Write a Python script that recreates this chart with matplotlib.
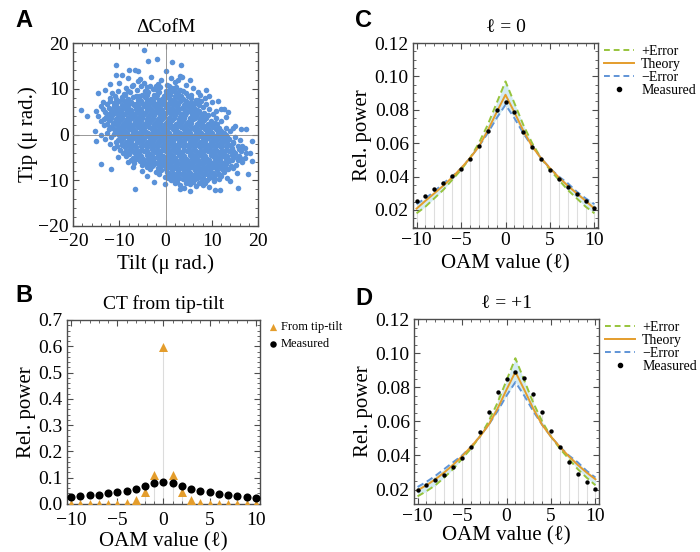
import matplotlib
matplotlib.use('Agg')
import matplotlib.pyplot as plt
from matplotlib.lines import Line2D
from matplotlib.ticker import MultipleLocator

plt.rcParams['font.family'] = ['Liberation Serif', 'DejaVu Serif']

# Panel A: centre-of-mass jitter (tilt, tip) in micro-radians
cofm_pts = [
    # outliers at the top
    (-4.7, 18.5), (-1.8, 16.5), (-3.8, 16.0), (1.5, 15.8), (3.3, 15.3), (-10.8, 15.1),
    (-6.0, 13.8), (-7.9, 14.0), (-6.5, 14.2), (-9.5, 13.0), (-10.6, 13.1), (0.0, 13.8),
    (3.1, 12.7), (5.2, 11.9), (-12.0, 11.1), (-14.7, 9.1), (8.8, 9.7), (9.5, 8.4),
    (7.4, 8.7), (11.4, 7.3), (12.1, 5.5), (-18.2, 5.3), (-15.1, 5.1),
    # y ~ 12
    (-8.2, 12.4), (-5.6, 12.1), (-3.1, 12.6), (-1.0, 11.9), (1.1, 12.3), (2.6, 12.0), (3.6, 12.5),
    # y ~ 11
    (-10.1, 11.2), (-7.0, 10.9), (-4.6, 11.3), (-3.3, 10.7), (-1.6, 11.1), (0.4, 10.8),
    (2.0, 11.4), (4.4, 10.9), (-6.0, 11.6),
    (-7.3, 10.5), (-2.0, 10.6), (2.3, 10.4),
    # y ~ 10
    (-13.1, 9.8), (-8.6, 10.2), (-6.1, 9.7), (-4.1, 10.3), (-2.8, 9.9), (-1.1, 10.4),
    (0.0, 9.6), (1.5, 10.1), (3.1, 9.8), (6.0, 10.2), (-5.2, 10.6), (0.8, 10.7),
    (-10.3, 9.5), (-8.2, 9.6), (-4.4, 9.6), (-1.9, 9.7), (0.7, 9.4), (2.1, 9.5), (3.7, 9.6),
    # y ~ 9
    (-11.6, 9.1), (-9.0, 8.8), (-7.6, 9.3), (-5.0, 8.7), (-3.7, 9.2), (-2.5, 8.6),
    (-1.3, 9.3), (0.2, 8.9), (1.3, 9.4), (2.8, 8.8), (4.5, 9.1), (7.0, 9.2),
    (-6.3, 8.5), (5.6, 8.6),
    (-11.0, 8.5), (-8.8, 8.6), (-5.7, 8.4), (-4.0, 8.6), (-1.8, 8.7), (-0.3, 8.5),
    (0.9, 8.6), (2.0, 8.4), (3.4, 8.5), (4.9, 8.4),
    # y ~ 8
    (-12.1, 8.0), (-10.6, 7.7), (-9.5, 8.3), (-8.2, 7.8), (-7.0, 8.2), (-5.6, 7.6),
    (-4.5, 8.1), (-3.1, 7.7), (-2.0, 8.3), (-0.8, 7.8), (0.3, 8.2), (1.5, 7.6),
    (2.6, 8.1), (3.8, 7.7), (5.5, 8.0), (8.5, 7.9), (6.6, 7.5),
    (-12.0, 7.4), (-9.1, 7.5), (-8.0, 7.4), (-6.0, 7.6), (-3.9, 7.5), (-2.7, 7.4),
    (-1.5, 7.5), (-0.3, 7.4), (0.9, 7.6), (2.0, 7.4), (3.3, 7.6), (4.5, 7.4), (7.0, 7.6),
    # y ~ 7
    (-13.6, 7.1), (-11.1, 6.9), (-10.0, 7.3), (-8.6, 6.8), (-7.5, 7.2), (-6.4, 6.7),
    (-5.3, 7.3), (-4.2, 6.8), (-3.3, 7.2), (-2.1, 6.7), (-1.0, 7.1), (0.0, 6.6),
    (1.0, 7.2), (2.1, 6.8), (3.1, 7.3), (4.2, 6.7), (5.5, 7.1), (6.6, 6.8),
    (10.0, 7.0), (7.6, 7.3),
    (-12.6, 6.6), (-10.6, 6.6), (-9.5, 6.5), (-8.1, 6.4), (-7.1, 6.6), (-6.0, 6.5),
    (-4.9, 6.6), (-3.8, 6.5), (-2.8, 6.6), (-1.6, 6.5), (-0.5, 6.6), (0.6, 6.4),
    (1.6, 6.5), (2.8, 6.6), (3.9, 6.5), (5.2, 6.6), (6.0, 6.5), (8.8, 6.6),
    # y ~ 6
    (-14.0, 6.2), (-12.3, 5.8), (-11.1, 6.3), (-10.2, 5.7), (-9.0, 6.1), (-7.9, 5.6),
    (-6.8, 6.4), (-5.7, 5.9), (-4.6, 6.2), (-3.4, 5.7), (-2.3, 6.3), (-1.2, 5.8),
    (0.1, 6.1), (1.2, 5.6), (2.4, 6.3), (3.5, 5.9), (4.8, 6.2), (6.1, 5.7),
    (8.1, 6.0), (12.6, 5.5), (7.2, 6.4),
    (-13.5, 5.5), (-11.7, 5.4), (-10.7, 5.6), (-9.6, 5.4), (-8.5, 5.6), (-7.4, 5.3),
    (-6.3, 5.6), (-5.2, 5.4), (-4.1, 5.7), (-3.0, 5.4), (-1.8, 5.6), (-0.7, 5.4),
    (0.6, 5.6), (1.8, 5.3), (3.0, 5.6), (4.2, 5.4), (5.5, 5.5), (6.8, 5.4), (9.5, 5.5),
    # y ~ 5
    (-13.1, 5.0), (-11.6, 4.8), (-10.5, 5.3), (-9.4, 4.7), (-8.3, 5.2), (-7.2, 4.6),
    (-6.2, 5.1), (-5.1, 4.7), (-4.0, 5.3), (-2.9, 4.8), (-1.8, 5.2), (-0.6, 4.6),
    (0.5, 5.1), (1.7, 4.7), (2.8, 5.3), (3.9, 4.8), (5.0, 5.2), (6.2, 4.6),
    (7.3, 5.1), (8.4, 4.8), (11.0, 5.2), (13.5, 4.9),
    (-12.3, 4.5), (-11.0, 4.6), (-10.0, 4.4), (-8.8, 4.5), (-7.7, 4.4), (-6.6, 4.5),
    (-5.5, 4.4), (-4.4, 4.6), (-3.3, 4.4), (-2.2, 4.6), (-1.1, 4.4), (0.0, 4.6),
    (1.1, 4.4), (2.3, 4.6), (3.4, 4.4), (4.5, 4.6), (5.7, 4.4), (7.0, 4.6), (8.2, 4.4), (10.2, 4.5),
    # y ~ 4
    (-14.6, 4.1), (-12.8, 3.8), (-11.5, 4.3), (-10.4, 3.7), (-9.3, 4.2), (-8.1, 3.6),
    (-7.0, 4.1), (-5.9, 3.7), (-4.8, 4.3), (-3.7, 3.8), (-2.5, 4.2), (-1.4, 3.6),
    (-0.3, 4.1), (0.8, 3.7), (2.0, 4.3), (3.1, 3.8), (4.3, 4.2), (5.4, 3.6),
    (6.6, 4.1), (7.7, 3.8), (9.1, 4.2), (13.1, 3.9), (-17.0, 4.0),
    (-13.4, 3.4), (-11.8, 3.5), (-10.6, 3.4), (-9.5, 3.6), (-8.4, 3.4), (-7.2, 3.6),
    (-6.1, 3.4), (-5.0, 3.6), (-3.9, 3.4), (-2.8, 3.6), (-1.6, 3.4), (-0.5, 3.6),
    (0.7, 3.4), (1.8, 3.6), (3.0, 3.4), (4.1, 3.6), (5.2, 3.4), (6.4, 3.6), (7.5, 3.4),
    (8.8, 3.6), (11.0, 3.5),
    # y ~ 3
    (-12.2, 3.1), (-11.0, 2.8), (-9.9, 3.2), (-8.8, 2.7), (-7.6, 3.3), (-6.5, 2.8),
    (-5.4, 3.2), (-4.2, 2.6), (-3.1, 3.1), (-2.0, 2.7), (-0.8, 3.3), (0.3, 2.8),
    (1.4, 3.2), (2.6, 2.6), (3.7, 3.1), (4.9, 2.7), (6.0, 3.3), (7.2, 2.8),
    (8.4, 3.2), (9.8, 2.9), (12.1, 3.0), (-14.0, 2.9),
    (-12.6, 2.4), (-11.4, 2.6), (-10.3, 2.5), (-9.1, 2.4), (-8.0, 2.6), (-6.9, 2.4),
    (-5.8, 2.6), (-4.6, 2.4), (-3.5, 2.6), (-2.4, 2.4), (-1.2, 2.6), (-0.1, 2.4),
    (1.0, 2.6), (2.2, 2.4), (3.3, 2.6), (4.5, 2.4), (5.6, 2.6), (6.8, 2.4), (7.9, 2.6),
    (9.2, 2.4), (10.6, 2.6),
    # y ~ 2
    (-13.2, 2.0), (-11.9, 1.7), (-10.8, 2.2), (-9.6, 1.6), (-8.5, 2.1), (-7.4, 1.7),
    (-6.2, 2.3), (-5.1, 1.8), (-3.9, 2.2), (-2.8, 1.6), (-1.7, 2.1), (-0.5, 1.7),
    (0.6, 2.3), (1.8, 1.8), (2.9, 2.2), (4.1, 1.6), (5.2, 2.1), (6.4, 1.7),
    (7.5, 2.3), (8.7, 1.8), (10.0, 2.0), (11.2, 2.3), (15.0, 1.9),
    (-11.4, 1.4), (-10.3, 1.5), (-9.2, 1.4), (-8.1, 1.6), (-7.0, 1.4), (-5.9, 1.6),
    (-4.7, 1.4), (-3.6, 1.6), (-2.4, 1.4), (-1.3, 1.6), (-0.1, 1.4), (1.0, 1.6),
    (2.2, 1.4), (3.4, 1.6), (4.5, 1.4), (5.6, 1.6), (6.8, 1.4), (7.9, 1.6), (9.1, 1.4),
    (10.3, 1.6), (11.6, 1.4), (13.0, 1.5),
    # y ~ 1
    (-12.3, 1.1), (-11.0, 0.8), (-9.9, 1.2), (-8.8, 0.7), (-7.6, 1.3), (-6.5, 0.8),
    (-5.3, 1.2), (-4.2, 0.6), (-3.0, 1.1), (-1.9, 0.7), (-0.7, 1.3), (0.4, 0.8),
    (1.6, 1.2), (2.7, 0.6), (3.9, 1.1), (5.0, 0.7), (6.2, 1.3), (7.3, 0.8),
    (8.5, 1.2), (9.7, 0.7), (10.9, 1.1), (12.1, 0.8), (14.6, 1.5), (16.4, 1.2), (17.5, 1.1),
    (-12.6, 0.4), (-10.5, 0.5), (-9.4, 0.6), (-8.3, 0.4), (-7.1, 0.6), (-6.0, 0.4),
    (-4.9, 0.6), (-3.7, 0.4), (-2.6, 0.6), (-1.4, 0.4), (-0.3, 0.6), (0.8, 0.4),
    (2.0, 0.6), (3.1, 0.4), (4.3, 0.6), (5.4, 0.4), (6.6, 0.6), (7.7, 0.4), (8.9, 0.6),
    (10.1, 0.4), (11.3, 0.6), (12.6, 0.4),
    # y ~ 0
    (-15.3, 0.7), (-14.0, 0.0), (-11.1, 0.1), (-10.0, -0.2), (-8.9, 0.3), (-7.7, -0.3),
    (-6.6, 0.2), (-5.5, -0.2), (-4.3, 0.3), (-3.2, -0.3), (-2.1, 0.2), (-0.9, -0.2),
    (0.2, 0.3), (1.3, -0.3), (2.5, 0.2), (3.6, -0.2), (4.8, 0.3), (5.9, -0.3),
    (7.1, 0.2), (8.2, -0.2), (9.4, 0.3), (10.6, -0.3), (11.8, 0.1), (13.0, -0.2), (13.9, 0.7),
    (-11.7, -0.5), (-9.5, -0.6), (-8.4, -0.4), (-7.2, -0.6), (-6.1, -0.4), (-5.0, -0.6),
    (-3.8, -0.4), (-2.7, -0.6), (-1.5, -0.4), (-0.4, -0.6), (0.7, -0.4), (1.9, -0.6),
    (3.0, -0.4), (4.2, -0.6), (5.3, -0.4), (6.5, -0.6), (7.6, -0.4), (8.8, -0.6),
    (9.9, -0.4), (11.1, -0.6), (12.2, -0.4), (13.4, -0.6), (15.0, -0.5),
    # y ~ -1
    (-15.0, -1.5), (-13.0, -0.9), (-10.2, -1.1), (-9.1, -0.8), (-8.0, -1.3), (-6.8, -0.7),
    (-5.7, -1.2), (-4.6, -0.8), (-3.4, -1.3), (-2.3, -0.7), (-1.1, -1.2), (0.0, -0.8),
    (1.1, -1.3), (2.3, -0.7), (3.4, -1.2), (4.6, -0.8), (5.7, -1.3), (6.9, -0.7),
    (8.0, -1.2), (9.2, -0.8), (10.3, -1.3), (11.5, -0.7), (12.6, -1.2), (13.8, -0.9),
    (16.0, -1.1), (18.6, -1.5),
    (-10.7, -1.6), (-9.6, -1.4), (-8.5, -1.6), (-7.4, -1.4), (-6.2, -1.6), (-5.1, -1.4),
    (-4.0, -1.6), (-2.8, -1.4), (-1.7, -1.6), (-0.5, -1.4), (0.6, -1.6), (1.7, -1.4),
    (2.9, -1.6), (4.0, -1.4), (5.2, -1.6), (6.3, -1.4), (7.5, -1.6), (8.6, -1.4),
    (9.8, -1.6), (10.9, -1.4), (12.1, -1.6), (13.2, -1.4), (14.5, -1.6),
    # y ~ -2
    (-12.0, -2.0), (-9.3, -2.2), (-8.2, -1.8), (-7.0, -2.3), (-5.9, -1.7), (-4.8, -2.2),
    (-3.6, -1.8), (-2.5, -2.3), (-1.3, -1.7), (-0.2, -2.2), (0.9, -1.8), (2.1, -2.3),
    (3.2, -1.7), (4.4, -2.2), (5.5, -1.8), (6.7, -2.3), (7.8, -1.7), (9.0, -2.2),
    (10.1, -1.8), (11.3, -2.3), (12.4, -1.7), (13.6, -2.2), (14.7, -1.9), (15.7, -2.5),
    (-10.5, -2.5), (-8.8, -2.4), (-7.6, -2.6), (-6.5, -2.4), (-5.3, -2.6), (-4.2, -2.4),
    (-3.0, -2.6), (-1.9, -2.4), (-0.7, -2.6), (0.4, -2.4), (1.6, -2.6), (2.7, -2.4),
    (3.8, -2.6), (5.0, -2.4), (6.1, -2.6), (7.3, -2.4), (8.4, -2.6), (9.6, -2.4),
    (10.7, -2.6), (11.9, -2.4), (13.0, -2.6), (14.2, -2.4), (16.5, -2.6),
    # y ~ -3
    (-11.1, -3.0), (-9.9, -3.3), (-8.7, -2.8), (-7.6, -3.2), (-6.4, -2.7), (-5.3, -3.3),
    (-4.1, -2.8), (-3.0, -3.2), (-1.8, -2.7), (-0.7, -3.3), (0.5, -2.8), (1.6, -3.2),
    (2.8, -2.7), (3.9, -3.3), (5.1, -2.8), (6.2, -3.2), (7.4, -2.7), (8.5, -3.3),
    (9.7, -2.8), (10.8, -3.2), (12.0, -2.7), (13.1, -3.3), (14.3, -2.9), (15.8, -3.1), (17.2, -3.0),
    (-8.5, -3.6), (-7.3, -3.4), (-6.2, -3.6), (-5.0, -3.4), (-3.9, -3.6), (-2.7, -3.4),
    (-1.6, -3.6), (-0.4, -3.4), (0.7, -3.6), (1.8, -3.4), (3.0, -3.6), (4.1, -3.4),
    (5.3, -3.6), (6.4, -3.4), (7.6, -3.6), (8.7, -3.4), (9.9, -3.6), (11.0, -3.4),
    (12.2, -3.6), (13.3, -3.4), (14.6, -3.6), (16.3, -3.5),
    # y ~ -4
    (-9.2, -4.0), (-8.0, -4.3), (-6.9, -3.8), (-5.7, -4.2), (-4.6, -3.7), (-3.4, -4.3),
    (-2.3, -3.8), (-1.1, -4.2), (0.0, -3.7), (1.2, -4.3), (2.3, -3.8), (3.5, -4.2),
    (4.6, -3.7), (5.8, -4.3), (6.9, -3.8), (8.1, -4.2), (9.2, -3.7), (10.4, -4.3),
    (11.5, -3.8), (12.7, -4.2), (13.8, -3.7), (15.0, -4.1), (17.5, -4.0), (18.2, -4.0),
    (-8.6, -4.6), (-6.3, -4.4), (-5.2, -4.6), (-4.0, -4.4), (-2.9, -4.6), (-1.7, -4.4),
    (-0.6, -4.6), (0.6, -4.4), (1.7, -4.6), (2.9, -4.4), (4.0, -4.6), (5.2, -4.4),
    (6.3, -4.6), (7.5, -4.4), (8.6, -4.6), (9.8, -4.4), (10.9, -4.6), (12.1, -4.4),
    (13.2, -4.6), (14.4, -4.4), (15.8, -4.6),
    # y ~ -5
    (-10.2, -5.0), (-7.1, -5.2), (-5.9, -4.8), (-4.8, -5.3), (-3.6, -4.7), (-2.5, -5.2),
    (-1.3, -4.8), (-0.2, -5.3), (1.0, -4.7), (2.1, -5.2), (3.3, -4.8), (4.4, -5.3),
    (5.6, -4.7), (6.7, -5.2), (7.9, -4.8), (9.0, -5.3), (10.2, -4.7), (11.3, -5.2),
    (12.5, -4.8), (13.6, -5.3), (14.8, -4.9), (16.1, -5.2), (17.1, -5.1),
    (-7.5, -5.6), (-6.3, -5.4), (-5.0, -5.6), (-3.8, -5.4), (-2.6, -5.6), (-1.4, -5.4),
    (-0.2, -5.6), (1.0, -5.4), (2.2, -5.6), (3.4, -5.4), (4.6, -5.6), (5.8, -5.4),
    (7.0, -5.6), (8.2, -5.4), (9.4, -5.6), (10.6, -5.4), (11.8, -5.6), (13.0, -5.4),
    (14.3, -5.6), (15.6, -5.5),
    # y ~ -6
    (-8.1, -6.0), (-6.8, -6.3), (-5.6, -5.8), (-4.4, -6.2), (-3.2, -5.7), (-2.0, -6.3),
    (-0.8, -5.8), (0.4, -6.2), (1.6, -5.7), (2.8, -6.3), (4.0, -5.8), (5.2, -6.2),
    (6.4, -5.7), (7.6, -6.3), (8.8, -5.8), (10.0, -6.2), (11.2, -5.7), (12.4, -6.3),
    (13.7, -5.9), (16.6, -6.1), (18.6, -5.8),
    (-5.0, -6.6), (-3.8, -6.4), (-2.6, -6.6), (-1.4, -6.4), (-0.2, -6.6), (1.0, -6.4),
    (2.2, -6.6), (3.4, -6.4), (4.6, -6.6), (5.8, -6.4), (7.0, -6.6), (8.2, -6.4),
    (9.4, -6.6), (10.6, -6.4), (11.8, -6.6), (13.1, -6.4), (15.2, -6.6),
    # y ~ -7
    (-13.9, -6.5), (-7.0, -7.0), (-4.1, -7.2), (-2.9, -6.8), (-1.7, -7.3), (-0.5, -6.7),
    (0.7, -7.2), (1.9, -6.8), (3.1, -7.3), (4.3, -6.7), (5.5, -7.2), (6.7, -6.8),
    (7.9, -7.3), (9.1, -6.7), (10.3, -7.2), (11.5, -6.8), (12.8, -7.2), (14.1, -6.9), (14.6, -7.3),
    (-3.4, -7.6), (-1.1, -7.4), (0.1, -7.6), (1.3, -7.4), (2.5, -7.6), (3.7, -7.4),
    (4.9, -7.6), (6.1, -7.4), (7.3, -7.6), (8.5, -7.4), (9.7, -7.6), (10.9, -7.4),
    (12.2, -7.6), (13.5, -7.5),
    # y ~ -8
    (-11.7, -7.6), (-5.0, -8.0), (-2.1, -8.2), (-0.9, -7.8), (0.3, -8.3), (1.5, -7.7),
    (2.7, -8.2), (3.9, -7.8), (5.1, -8.3), (6.3, -7.7), (7.5, -8.2), (8.7, -7.8),
    (9.9, -8.3), (11.1, -7.8), (12.6, -8.1), (15.5, -8.4), (17.8, -8.7),
    (-1.5, -8.6), (0.6, -8.5), (1.8, -8.6), (3.0, -8.4), (4.2, -8.6), (5.4, -8.4),
    (6.6, -8.6), (7.8, -8.4), (9.0, -8.6), (10.2, -8.4), (11.5, -8.6),
    # y ~ -9
    (-4.0, -9.0), (-0.1, -9.2), (1.2, -8.8), (2.4, -9.3), (3.6, -8.7), (4.8, -9.2),
    (6.0, -8.8), (7.2, -9.3), (8.4, -8.7), (9.6, -9.2), (10.8, -8.8), (12.0, -9.1), (13.4, -9.4),
    (0.6, -9.6), (1.8, -9.5), (3.0, -9.6), (4.2, -9.4), (5.5, -9.6), (6.8, -9.4),
    (8.0, -9.6), (9.3, -9.5), (10.5, -9.6),
    # y ~ -10
    (-2.5, -10.3), (1.2, -10.0), (2.5, -10.3), (3.8, -9.8), (5.1, -10.2), (6.4, -9.7),
    (7.7, -10.3), (9.0, -9.9), (10.4, -10.2), (11.5, -9.8), (14.0, -10.1),
    (2.0, -10.6), (4.4, -10.5), (5.9, -10.4), (7.2, -10.7), (8.6, -10.5),
    # y ~ -11 / -12
    (-0.2, -10.9), (3.1, -11.0), (4.1, -11.6), (5.3, -10.8), (6.6, -11.3), (8.0, -11.0), (9.5, -11.4),
    (-6.7, -11.9), (3.1, -12.0), (5.4, -12.4), (10.6, -12.1), (11.7, -12.1), (15.7, -11.8),
]
tilt = [p[0] for p in cofm_pts]
tip = [p[1] for p in cofm_pts]

# OAM spectra
ell = list(range(-10, 11))
measured_l0 = [0.0252, 0.0286, 0.0325, 0.0359, 0.0403, 0.0445, 0.0503, 0.0584, 0.0674, 0.0798, 0.0845,
               0.0784, 0.0668, 0.0578, 0.0503, 0.0439, 0.0387, 0.0335, 0.0296, 0.0256, 0.0212]
from_tiptilt = [0.0005, 0.0005, 0.0005, 0.0005, 0.0005, 0.0008, 0.005, 0.016, 0.046, 0.112, 0.596,
                0.112, 0.046, 0.016, 0.005, 0.0008, 0.0005, 0.0005, 0.0005, 0.0005, 0.0005]

theory_l0 = [0.0208, 0.0255, 0.030, 0.0345, 0.0395, 0.045, 0.051, 0.058, 0.0675, 0.0785, 0.089,
             0.0785, 0.0675, 0.058, 0.051, 0.045, 0.0395, 0.0345, 0.030, 0.0255, 0.0208]
plus_l0 = [0.018, 0.022, 0.027, 0.032, 0.038, 0.044, 0.051, 0.060, 0.071, 0.084, 0.097,
           0.084, 0.071, 0.060, 0.051, 0.044, 0.038, 0.032, 0.027, 0.022, 0.018]
minus_l0 = [0.0235, 0.027, 0.031, 0.036, 0.040, 0.045, 0.051, 0.058, 0.066, 0.075, 0.083,
            0.075, 0.066, 0.058, 0.051, 0.045, 0.040, 0.036, 0.031, 0.027, 0.0235]

measured_l1 = [0.0198, 0.0224, 0.0253, 0.0286, 0.0331, 0.0386, 0.0451, 0.0539, 0.0655, 0.0773, 0.0851,
               0.089, 0.0853, 0.0763, 0.0655, 0.0543, 0.0449, 0.0361, 0.0292, 0.0245, 0.0204]
theory_l1 = [0.0195, 0.0225, 0.026, 0.030, 0.0345, 0.0395, 0.045, 0.051, 0.058, 0.0675, 0.0785,
             0.089, 0.0785, 0.0675, 0.058, 0.051, 0.045, 0.0395, 0.0345, 0.030, 0.026]
plus_l1 = [0.016, 0.019, 0.0225, 0.027, 0.032, 0.038, 0.044, 0.051, 0.060, 0.071, 0.084,
           0.097, 0.084, 0.071, 0.060, 0.051, 0.044, 0.038, 0.032, 0.027, 0.0225]
minus_l1 = [0.0215, 0.0245, 0.028, 0.032, 0.036, 0.040, 0.045, 0.051, 0.058, 0.066, 0.075,
            0.083, 0.075, 0.066, 0.058, 0.051, 0.045, 0.040, 0.036, 0.031, 0.027]

c_blue = '#5a92d9'
c_orange = '#e49d2c'
c_green = '#97c43c'
c_dblue = '#5f94d6'
c_fill = '#d3ecf4'
frame_col = '#4d4d4d'


def style_frame(ax):
    for s in ax.spines.values():
        s.set_color(frame_col)
        s.set_linewidth(1.0)
    ax.tick_params(which='both', direction='in', top=True, right=True,
                   color=frame_col, labelsize=14, pad=3)
    ax.tick_params(which='major', length=4, width=0.8)
    ax.tick_params(which='minor', length=2, width=0.6)


fig = plt.figure(figsize=(7.0, 5.52), dpi=100)

# ---- A ----
axA = fig.add_axes([73 / 700, 1 - 226 / 552, 185 / 700, 183 / 552])
axA.scatter(tilt, tip, s=16, color=c_blue, linewidths=0, zorder=2)
axA.axhline(0, color='#888888', lw=0.6, zorder=3)
axA.axvline(0, color='#888888', lw=0.6, zorder=3)
axA.set_xlim(-20, 20)
axA.set_ylim(-20, 20)
axA.xaxis.set_major_locator(MultipleLocator(10))
axA.yaxis.set_major_locator(MultipleLocator(10))
axA.xaxis.set_minor_locator(MultipleLocator(2))
axA.yaxis.set_minor_locator(MultipleLocator(2))
style_frame(axA)
axA.tick_params(axis='x', pad=5)
axA.set_title('ΔCofM', fontsize=14, pad=8)
axA.set_xlabel('Tilt (μ rad.)', fontsize=15, labelpad=3)
axA.set_ylabel('Tip (μ rad.)', fontsize=15, labelpad=0)

# ---- B ----
axB = fig.add_axes([67 / 700, 1 - 504 / 552, 193 / 700, 184 / 552])
axB.vlines(ell, 0, from_tiptilt, color='#dcdcdc', lw=0.8, zorder=1)
axB.scatter(ell, from_tiptilt, marker='^', s=42, color=c_orange, linewidths=0,
            zorder=3, label='From tip-tilt')
axB.scatter(ell, measured_l0, marker='o', s=34, color='black', linewidths=0,
            zorder=4, label='Measured')
axB.set_xlim(-10.45, 10.45)
axB.set_ylim(0, 0.7)
axB.xaxis.set_major_locator(MultipleLocator(5))
axB.xaxis.set_minor_locator(MultipleLocator(1))
axB.yaxis.set_major_locator(MultipleLocator(0.1))
axB.yaxis.set_minor_locator(MultipleLocator(0.02))
style_frame(axB)
axB.tick_params(axis='x', pad=6)
axB.set_title('CT from tip-tilt', fontsize=14, pad=8)
axB.set_xlabel('OAM value (ℓ)', fontsize=15, labelpad=2)
axB.set_ylabel('Rel. power', fontsize=15, labelpad=2)
axB.legend(loc='upper left', bbox_to_anchor=(1.01, 1.02), frameon=False, fontsize=9,
           handletextpad=0.1, labelspacing=0.4, borderaxespad=0, handlelength=1.0,
           markerscale=0.8)


def oam_panel(rect, measured, theory, plus, minus, title, ylo, xpad):
    ax = fig.add_axes(rect)
    ax.vlines(ell, ylo, measured, color='#dedede', lw=0.8, zorder=1)
    ax.fill_between(ell, plus, minus, color=c_fill, lw=0, zorder=1.5)
    ax.plot(ell, plus, color=c_green, lw=1.4, ls=(0, (3.5, 2)), zorder=2)
    ax.plot(ell, theory, color=c_orange, lw=1.4, zorder=3)
    ax.plot(ell, minus, color=c_dblue, lw=1.4, ls=(0, (3.5, 2)), zorder=2)
    ax.scatter(ell, measured, s=10, color='black', linewidths=0, zorder=4)
    ax.set_xlim(-10.4, 10.4)
    ax.set_ylim(ylo, 0.12)
    ax.xaxis.set_major_locator(MultipleLocator(5))
    ax.xaxis.set_minor_locator(MultipleLocator(1))
    ax.yaxis.set_minor_locator(MultipleLocator(0.005))
    ax.set_yticks([0.02, 0.04, 0.06, 0.08, 0.10, 0.12])
    ax.set_yticklabels(['0.02', '0.04', '0.06', '0.08', '0.10', '0.12'])
    style_frame(ax)
    ax.set_title(title, fontsize=14, pad=8)
    ax.set_xlabel('OAM value (ℓ)', fontsize=15, labelpad=xpad)
    ax.set_ylabel('Rel. power', fontsize=15, labelpad=2)
    handles = [
        Line2D([], [], color=c_green, lw=1.4, ls=(0, (3, 2))),
        Line2D([], [], color=c_orange, lw=1.4),
        Line2D([], [], color=c_dblue, lw=1.4, ls=(0, (3, 2))),
        Line2D([], [], color='black', marker='o', ms=3, lw=0),
    ]
    ax.legend(handles, ['+Error', 'Theory', '\u2212Error', 'Measured'],
              loc='upper left', bbox_to_anchor=(1.0, 1.02), frameon=False, fontsize=10,
              handlelength=2.2, handletextpad=0.5, labelspacing=0.0, borderaxespad=0)
    return ax


oam_panel([413 / 700, 1 - 228 / 552, 185 / 700, 185 / 552],
          measured_l0, theory_l0, plus_l0, minus_l0, 'ℓ = 0', 0.0092, 4)
oam_panel([414 / 700, 1 - 504 / 552, 185 / 700, 185 / 552],
          measured_l1, theory_l1, plus_l1, minus_l1, 'ℓ = +1', 0.0115, 1)

for lab, x, y in [('A', 15, 27), ('B', 15, 302), ('C', 355, 27), ('D', 355, 305)]:
    fig.text(x / 700, 1 - y / 552, lab, fontsize=17, fontweight='bold',
             family='Liberation Sans', ha='left', va='baseline')

fig.savefig('out.png', dpi=100)
